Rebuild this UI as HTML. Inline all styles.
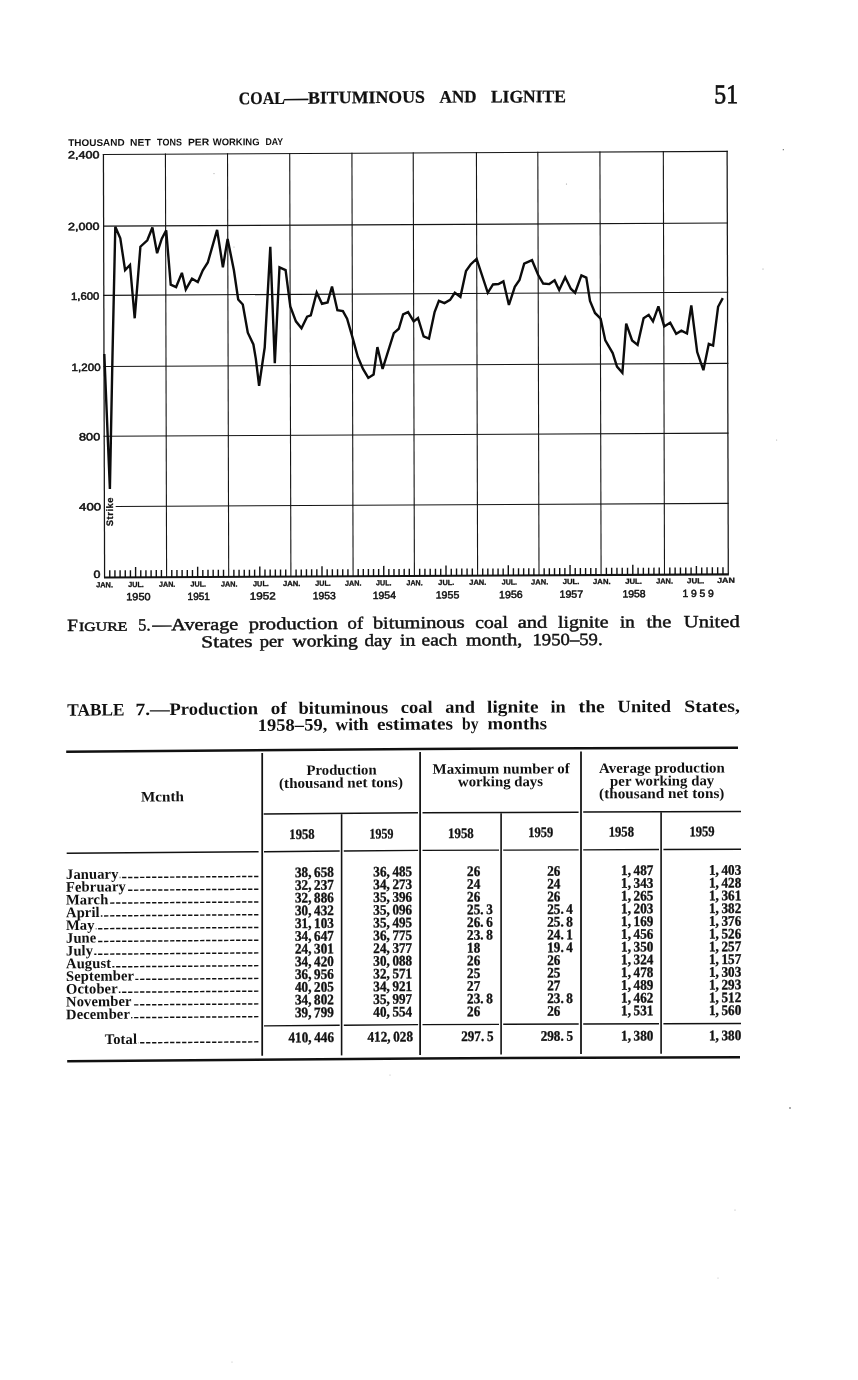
<!DOCTYPE html>
<html><head><meta charset="utf-8"><title>Coal—Bituminous and Lignite</title>
<style>
html,body{margin:0;padding:0;background:#fff}
body{width:858px;height:1380px;position:relative;overflow:hidden}
#pg{position:absolute;left:0;top:0;width:858px;height:1380px;will-change:transform}
svg{position:absolute;left:0;top:0}
text{fill:#111;white-space:pre}
</style></head><body><div id="pg">
<svg width="858" height="1380" viewBox="0 0 858 1380">
<g transform="matrix(1 -0.005 0 1 0 2.1450)">
<line x1="103.42" y1="152.30" x2="104.60" y2="575.85" stroke="#151515" stroke-width="1.25"/>
<line x1="165.42" y1="152.30" x2="166.60" y2="575.85" stroke="#151515" stroke-width="1.1"/>
<line x1="227.52" y1="152.30" x2="228.70" y2="575.85" stroke="#151515" stroke-width="1.1"/>
<line x1="289.72" y1="152.30" x2="290.90" y2="575.85" stroke="#151515" stroke-width="1.1"/>
<line x1="351.92" y1="152.30" x2="353.10" y2="575.85" stroke="#151515" stroke-width="1.1"/>
<line x1="413.22" y1="152.30" x2="414.40" y2="575.85" stroke="#151515" stroke-width="1.1"/>
<line x1="476.42" y1="152.30" x2="477.60" y2="575.85" stroke="#151515" stroke-width="1.1"/>
<line x1="537.82" y1="152.30" x2="539.00" y2="575.85" stroke="#151515" stroke-width="1.1"/>
<line x1="599.92" y1="152.30" x2="601.10" y2="575.85" stroke="#151515" stroke-width="1.1"/>
<line x1="663.32" y1="152.30" x2="664.50" y2="575.85" stroke="#151515" stroke-width="1.1"/>
<line x1="727.12" y1="152.30" x2="728.30" y2="575.85" stroke="#151515" stroke-width="1.25"/>
<line x1="102.82" y1="152.90" x2="727.72" y2="152.90" stroke="#151515" stroke-width="1.1"/>
<line x1="103.02" y1="224.50" x2="727.92" y2="224.50" stroke="#151515" stroke-width="1.1"/>
<line x1="103.21" y1="293.70" x2="728.11" y2="293.70" stroke="#151515" stroke-width="1.1"/>
<line x1="103.41" y1="364.90" x2="728.31" y2="364.90" stroke="#151515" stroke-width="1.1"/>
<line x1="103.60" y1="434.60" x2="728.50" y2="434.60" stroke="#151515" stroke-width="1.1"/>
<line x1="115.70" y1="504.90" x2="728.70" y2="504.90" stroke="#151515" stroke-width="1.1"/>
<line x1="104.00" y1="575.85" x2="728.90" y2="575.85" stroke="#151515" stroke-width="2.1"/>
<line x1="109.77" y1="575.85" x2="109.77" y2="568.75" stroke="#111" stroke-width="1.4"/>
<line x1="114.93" y1="575.85" x2="114.93" y2="568.75" stroke="#111" stroke-width="1.4"/>
<line x1="120.10" y1="575.85" x2="120.10" y2="568.75" stroke="#111" stroke-width="1.4"/>
<line x1="125.27" y1="575.85" x2="125.27" y2="568.75" stroke="#111" stroke-width="1.4"/>
<line x1="130.43" y1="575.85" x2="130.43" y2="568.75" stroke="#111" stroke-width="1.4"/>
<line x1="135.60" y1="575.85" x2="135.60" y2="565.65" stroke="#111" stroke-width="1.4"/>
<line x1="140.77" y1="575.85" x2="140.77" y2="568.75" stroke="#111" stroke-width="1.4"/>
<line x1="145.93" y1="575.85" x2="145.93" y2="568.75" stroke="#111" stroke-width="1.4"/>
<line x1="151.10" y1="575.85" x2="151.10" y2="568.75" stroke="#111" stroke-width="1.4"/>
<line x1="156.27" y1="575.85" x2="156.27" y2="568.75" stroke="#111" stroke-width="1.4"/>
<line x1="161.43" y1="575.85" x2="161.43" y2="568.75" stroke="#111" stroke-width="1.4"/>
<line x1="171.78" y1="575.85" x2="171.78" y2="568.75" stroke="#111" stroke-width="1.4"/>
<line x1="176.95" y1="575.85" x2="176.95" y2="568.75" stroke="#111" stroke-width="1.4"/>
<line x1="182.12" y1="575.85" x2="182.12" y2="568.75" stroke="#111" stroke-width="1.4"/>
<line x1="187.30" y1="575.85" x2="187.30" y2="568.75" stroke="#111" stroke-width="1.4"/>
<line x1="192.47" y1="575.85" x2="192.47" y2="568.75" stroke="#111" stroke-width="1.4"/>
<line x1="197.65" y1="575.85" x2="197.65" y2="565.65" stroke="#111" stroke-width="1.4"/>
<line x1="202.82" y1="575.85" x2="202.82" y2="568.75" stroke="#111" stroke-width="1.4"/>
<line x1="208.00" y1="575.85" x2="208.00" y2="568.75" stroke="#111" stroke-width="1.4"/>
<line x1="213.17" y1="575.85" x2="213.17" y2="568.75" stroke="#111" stroke-width="1.4"/>
<line x1="218.35" y1="575.85" x2="218.35" y2="568.75" stroke="#111" stroke-width="1.4"/>
<line x1="223.52" y1="575.85" x2="223.52" y2="568.75" stroke="#111" stroke-width="1.4"/>
<line x1="233.88" y1="575.85" x2="233.88" y2="568.75" stroke="#111" stroke-width="1.4"/>
<line x1="239.07" y1="575.85" x2="239.07" y2="568.75" stroke="#111" stroke-width="1.4"/>
<line x1="244.25" y1="575.85" x2="244.25" y2="568.75" stroke="#111" stroke-width="1.4"/>
<line x1="249.43" y1="575.85" x2="249.43" y2="568.75" stroke="#111" stroke-width="1.4"/>
<line x1="254.62" y1="575.85" x2="254.62" y2="568.75" stroke="#111" stroke-width="1.4"/>
<line x1="259.80" y1="575.85" x2="259.80" y2="565.65" stroke="#111" stroke-width="1.4"/>
<line x1="264.98" y1="575.85" x2="264.98" y2="568.75" stroke="#111" stroke-width="1.4"/>
<line x1="270.17" y1="575.85" x2="270.17" y2="568.75" stroke="#111" stroke-width="1.4"/>
<line x1="275.35" y1="575.85" x2="275.35" y2="568.75" stroke="#111" stroke-width="1.4"/>
<line x1="280.53" y1="575.85" x2="280.53" y2="568.75" stroke="#111" stroke-width="1.4"/>
<line x1="285.72" y1="575.85" x2="285.72" y2="568.75" stroke="#111" stroke-width="1.4"/>
<line x1="296.08" y1="575.85" x2="296.08" y2="568.75" stroke="#111" stroke-width="1.4"/>
<line x1="301.27" y1="575.85" x2="301.27" y2="568.75" stroke="#111" stroke-width="1.4"/>
<line x1="306.45" y1="575.85" x2="306.45" y2="568.75" stroke="#111" stroke-width="1.4"/>
<line x1="311.63" y1="575.85" x2="311.63" y2="568.75" stroke="#111" stroke-width="1.4"/>
<line x1="316.82" y1="575.85" x2="316.82" y2="568.75" stroke="#111" stroke-width="1.4"/>
<line x1="322.00" y1="575.85" x2="322.00" y2="565.65" stroke="#111" stroke-width="1.4"/>
<line x1="327.18" y1="575.85" x2="327.18" y2="568.75" stroke="#111" stroke-width="1.4"/>
<line x1="332.37" y1="575.85" x2="332.37" y2="568.75" stroke="#111" stroke-width="1.4"/>
<line x1="337.55" y1="575.85" x2="337.55" y2="568.75" stroke="#111" stroke-width="1.4"/>
<line x1="342.73" y1="575.85" x2="342.73" y2="568.75" stroke="#111" stroke-width="1.4"/>
<line x1="347.92" y1="575.85" x2="347.92" y2="568.75" stroke="#111" stroke-width="1.4"/>
<line x1="358.21" y1="575.85" x2="358.21" y2="568.75" stroke="#111" stroke-width="1.4"/>
<line x1="363.32" y1="575.85" x2="363.32" y2="568.75" stroke="#111" stroke-width="1.4"/>
<line x1="368.43" y1="575.85" x2="368.43" y2="568.75" stroke="#111" stroke-width="1.4"/>
<line x1="373.53" y1="575.85" x2="373.53" y2="568.75" stroke="#111" stroke-width="1.4"/>
<line x1="378.64" y1="575.85" x2="378.64" y2="568.75" stroke="#111" stroke-width="1.4"/>
<line x1="383.75" y1="575.85" x2="383.75" y2="565.65" stroke="#111" stroke-width="1.4"/>
<line x1="388.86" y1="575.85" x2="388.86" y2="568.75" stroke="#111" stroke-width="1.4"/>
<line x1="393.97" y1="575.85" x2="393.97" y2="568.75" stroke="#111" stroke-width="1.4"/>
<line x1="399.07" y1="575.85" x2="399.07" y2="568.75" stroke="#111" stroke-width="1.4"/>
<line x1="404.18" y1="575.85" x2="404.18" y2="568.75" stroke="#111" stroke-width="1.4"/>
<line x1="409.29" y1="575.85" x2="409.29" y2="568.75" stroke="#111" stroke-width="1.4"/>
<line x1="419.67" y1="575.85" x2="419.67" y2="568.75" stroke="#111" stroke-width="1.4"/>
<line x1="424.93" y1="575.85" x2="424.93" y2="568.75" stroke="#111" stroke-width="1.4"/>
<line x1="430.20" y1="575.85" x2="430.20" y2="568.75" stroke="#111" stroke-width="1.4"/>
<line x1="435.47" y1="575.85" x2="435.47" y2="568.75" stroke="#111" stroke-width="1.4"/>
<line x1="440.73" y1="575.85" x2="440.73" y2="568.75" stroke="#111" stroke-width="1.4"/>
<line x1="446.00" y1="575.85" x2="446.00" y2="565.65" stroke="#111" stroke-width="1.4"/>
<line x1="451.27" y1="575.85" x2="451.27" y2="568.75" stroke="#111" stroke-width="1.4"/>
<line x1="456.53" y1="575.85" x2="456.53" y2="568.75" stroke="#111" stroke-width="1.4"/>
<line x1="461.80" y1="575.85" x2="461.80" y2="568.75" stroke="#111" stroke-width="1.4"/>
<line x1="467.07" y1="575.85" x2="467.07" y2="568.75" stroke="#111" stroke-width="1.4"/>
<line x1="472.33" y1="575.85" x2="472.33" y2="568.75" stroke="#111" stroke-width="1.4"/>
<line x1="482.72" y1="575.85" x2="482.72" y2="568.75" stroke="#111" stroke-width="1.4"/>
<line x1="487.83" y1="575.85" x2="487.83" y2="568.75" stroke="#111" stroke-width="1.4"/>
<line x1="492.95" y1="575.85" x2="492.95" y2="568.75" stroke="#111" stroke-width="1.4"/>
<line x1="498.07" y1="575.85" x2="498.07" y2="568.75" stroke="#111" stroke-width="1.4"/>
<line x1="503.18" y1="575.85" x2="503.18" y2="568.75" stroke="#111" stroke-width="1.4"/>
<line x1="508.30" y1="575.85" x2="508.30" y2="565.65" stroke="#111" stroke-width="1.4"/>
<line x1="513.42" y1="575.85" x2="513.42" y2="568.75" stroke="#111" stroke-width="1.4"/>
<line x1="518.53" y1="575.85" x2="518.53" y2="568.75" stroke="#111" stroke-width="1.4"/>
<line x1="523.65" y1="575.85" x2="523.65" y2="568.75" stroke="#111" stroke-width="1.4"/>
<line x1="528.77" y1="575.85" x2="528.77" y2="568.75" stroke="#111" stroke-width="1.4"/>
<line x1="533.88" y1="575.85" x2="533.88" y2="568.75" stroke="#111" stroke-width="1.4"/>
<line x1="544.17" y1="575.85" x2="544.17" y2="568.75" stroke="#111" stroke-width="1.4"/>
<line x1="549.35" y1="575.85" x2="549.35" y2="568.75" stroke="#111" stroke-width="1.4"/>
<line x1="554.52" y1="575.85" x2="554.52" y2="568.75" stroke="#111" stroke-width="1.4"/>
<line x1="559.70" y1="575.85" x2="559.70" y2="568.75" stroke="#111" stroke-width="1.4"/>
<line x1="564.88" y1="575.85" x2="564.88" y2="568.75" stroke="#111" stroke-width="1.4"/>
<line x1="570.05" y1="575.85" x2="570.05" y2="565.65" stroke="#111" stroke-width="1.4"/>
<line x1="575.23" y1="575.85" x2="575.23" y2="568.75" stroke="#111" stroke-width="1.4"/>
<line x1="580.40" y1="575.85" x2="580.40" y2="568.75" stroke="#111" stroke-width="1.4"/>
<line x1="585.58" y1="575.85" x2="585.58" y2="568.75" stroke="#111" stroke-width="1.4"/>
<line x1="590.75" y1="575.85" x2="590.75" y2="568.75" stroke="#111" stroke-width="1.4"/>
<line x1="595.93" y1="575.85" x2="595.93" y2="568.75" stroke="#111" stroke-width="1.4"/>
<line x1="606.38" y1="575.85" x2="606.38" y2="568.75" stroke="#111" stroke-width="1.4"/>
<line x1="611.67" y1="575.85" x2="611.67" y2="568.75" stroke="#111" stroke-width="1.4"/>
<line x1="616.95" y1="575.85" x2="616.95" y2="568.75" stroke="#111" stroke-width="1.4"/>
<line x1="622.23" y1="575.85" x2="622.23" y2="568.75" stroke="#111" stroke-width="1.4"/>
<line x1="627.52" y1="575.85" x2="627.52" y2="568.75" stroke="#111" stroke-width="1.4"/>
<line x1="632.80" y1="575.85" x2="632.80" y2="565.65" stroke="#111" stroke-width="1.4"/>
<line x1="638.08" y1="575.85" x2="638.08" y2="568.75" stroke="#111" stroke-width="1.4"/>
<line x1="643.37" y1="575.85" x2="643.37" y2="568.75" stroke="#111" stroke-width="1.4"/>
<line x1="648.65" y1="575.85" x2="648.65" y2="568.75" stroke="#111" stroke-width="1.4"/>
<line x1="653.93" y1="575.85" x2="653.93" y2="568.75" stroke="#111" stroke-width="1.4"/>
<line x1="659.22" y1="575.85" x2="659.22" y2="568.75" stroke="#111" stroke-width="1.4"/>
<line x1="669.82" y1="575.85" x2="669.82" y2="568.75" stroke="#111" stroke-width="1.4"/>
<line x1="675.13" y1="575.85" x2="675.13" y2="568.75" stroke="#111" stroke-width="1.4"/>
<line x1="680.45" y1="575.85" x2="680.45" y2="568.75" stroke="#111" stroke-width="1.4"/>
<line x1="685.77" y1="575.85" x2="685.77" y2="568.75" stroke="#111" stroke-width="1.4"/>
<line x1="691.08" y1="575.85" x2="691.08" y2="568.75" stroke="#111" stroke-width="1.4"/>
<line x1="696.40" y1="575.85" x2="696.40" y2="567.25" stroke="#111" stroke-width="1.4"/>
<line x1="701.72" y1="575.85" x2="701.72" y2="568.75" stroke="#111" stroke-width="1.4"/>
<line x1="707.03" y1="575.85" x2="707.03" y2="568.75" stroke="#111" stroke-width="1.4"/>
<line x1="712.35" y1="575.85" x2="712.35" y2="568.75" stroke="#111" stroke-width="1.4"/>
<line x1="717.67" y1="575.85" x2="717.67" y2="568.75" stroke="#111" stroke-width="1.4"/>
<line x1="722.98" y1="575.85" x2="722.98" y2="568.75" stroke="#111" stroke-width="1.4"/>
<polyline points="104.3,352.4 109.9,487.4 112.5,353.4 115.3,225.1 120.3,236.7 125.1,268.6 130.0,263.5 134.7,316.8 140.4,245.3 147.3,238.9 152.4,226.1 157.1,251.8 161.8,237.3 166.2,229.0 170.7,283.4 176.1,285.8 181.9,271.6 185.8,288.2 192.0,277.5 197.8,280.9 202.8,269.2 207.8,261.4 217.1,228.8 222.9,266.2 227.6,237.9 233.9,269.3 238.2,298.6 242.8,303.6 247.8,331.8 253.4,343.6 255.8,357.8 259.1,384.9 264.7,346.7 270.3,246.0 274.8,362.5 279.5,266.6 285.6,269.4 290.3,305.8 295.9,320.7 301.5,327.7 307.1,316.1 310.8,314.8 316.7,291.9 322.0,303.2 327.6,301.9 332.0,286.0 337.4,309.7 342.9,310.7 347.1,318.2 352.7,337.8 357.8,356.4 363.0,368.6 368.3,377.6 373.6,374.2 377.4,346.8 382.6,368.7 393.8,332.9 398.8,328.6 403.1,314.2 408.1,312.0 413.7,321.3 418.0,317.9 423.6,336.3 429.0,338.5 434.6,312.1 438.9,300.9 444.5,303.2 450.1,300.0 454.8,292.9 460.4,297.0 466.0,271.2 470.6,264.7 476.6,259.1 487.8,293.1 493.0,284.8 498.5,284.4 503.4,281.7 508.9,305.4 514.8,287.3 519.5,280.5 524.2,264.1 532.0,260.7 538.1,275.3 543.2,284.1 549.3,284.7 554.6,281.0 559.2,290.7 565.2,277.9 570.8,289.4 575.1,293.5 581.4,276.1 586.3,278.4 590.0,301.7 595.0,313.8 600.6,319.5 605.3,341.3 612.7,354.0 617.0,367.6 622.4,373.7 626.2,324.6 632.1,341.5 637.6,345.9 643.6,319.2 648.7,315.9 653.0,322.5 658.4,307.6 664.2,327.6 670.2,323.9 676.2,335.1 681.4,332.0 687.0,334.8 691.3,306.8 697.2,353.4 703.4,371.6 708.8,345.2 713.1,347.0 718.1,308.2 722.8,299.6" fill="none" stroke="#0c0c0c" stroke-width="2.4" stroke-linejoin="miter" stroke-miterlimit="3"/>
<text x="113.4" y="524.7" transform="rotate(-90 113.4 524.7)" font-family="Liberation Sans" font-weight="bold" font-size="9.4" letter-spacing="0.55" stroke="#111" stroke-width="0.25">Strike</text>
</g>
<text x="68.20" y="146.05" transform="rotate(-0.286 68.20 146.05)" font-family="Liberation Sans" font-size="9.7" font-weight="bold" textLength="56.40" lengthAdjust="spacingAndGlyphs">THOUSAND</text>
<text x="130.10" y="145.74" transform="rotate(-0.286 130.10 145.74)" font-family="Liberation Sans" font-size="9.7" font-weight="bold" textLength="20.60" lengthAdjust="spacingAndGlyphs">NET</text>
<text x="157.10" y="145.60" transform="rotate(-0.286 157.10 145.60)" font-family="Liberation Sans" font-size="9.7" font-weight="bold" textLength="24.80" lengthAdjust="spacingAndGlyphs">TONS</text>
<text x="187.90" y="145.45" transform="rotate(-0.286 187.90 145.45)" font-family="Liberation Sans" font-size="9.7" font-weight="bold" textLength="21.50" lengthAdjust="spacingAndGlyphs">PER</text>
<text x="212.70" y="145.33" transform="rotate(-0.286 212.70 145.33)" font-family="Liberation Sans" font-size="9.7" font-weight="bold" textLength="46.90" lengthAdjust="spacingAndGlyphs">WORKING</text>
<text x="265.40" y="145.06" transform="rotate(-0.286 265.40 145.06)" font-family="Liberation Sans" font-size="9.7" font-weight="bold" textLength="17.70" lengthAdjust="spacingAndGlyphs">DAY</text>
<text x="67.90" y="158.50" transform="rotate(-0.286 67.90 158.50)" font-family="Liberation Sans" font-size="10.6" stroke="#111" stroke-width="0.5" textLength="31.50" lengthAdjust="spacingAndGlyphs">2,400</text>
<text x="67.90" y="230.20" transform="rotate(-0.286 67.90 230.20)" font-family="Liberation Sans" font-size="10.6" stroke="#111" stroke-width="0.5" textLength="31.50" lengthAdjust="spacingAndGlyphs">2,000</text>
<text x="71.00" y="299.90" transform="rotate(-0.286 71.00 299.90)" font-family="Liberation Sans" font-size="10.6" stroke="#111" stroke-width="0.5" textLength="28.40" lengthAdjust="spacingAndGlyphs">1,600</text>
<text x="71.60" y="371.10" transform="rotate(-0.286 71.60 371.10)" font-family="Liberation Sans" font-size="10.6" stroke="#111" stroke-width="0.5" textLength="29.00" lengthAdjust="spacingAndGlyphs">1,200</text>
<text x="79.10" y="440.50" transform="rotate(-0.286 79.10 440.50)" font-family="Liberation Sans" font-size="10.6" stroke="#111" stroke-width="0.5" textLength="21.10" lengthAdjust="spacingAndGlyphs">800</text>
<text x="79.10" y="510.60" transform="rotate(-0.286 79.10 510.60)" font-family="Liberation Sans" font-size="10.6" stroke="#111" stroke-width="0.5" textLength="22.10" lengthAdjust="spacingAndGlyphs">400</text>
<text transform="translate(93.40 578.10) rotate(-0.286) scale(1.1800 1)" font-family="Liberation Sans" font-size="10.6" stroke="#111" stroke-width="0.5">0</text>
<text x="96.20" y="587.30" transform="rotate(-0.286 96.20 587.30)" font-family="Liberation Sans" font-size="7.4" font-weight="bold" stroke="#111" stroke-width="0.3" textLength="16.80" lengthAdjust="spacingAndGlyphs">JAN.</text>
<text x="159.00" y="586.88" transform="rotate(-0.286 159.00 586.88)" font-family="Liberation Sans" font-size="7.4" font-weight="bold" stroke="#111" stroke-width="0.3" textLength="16.30" lengthAdjust="spacingAndGlyphs">JAN.</text>
<text x="221.00" y="586.47" transform="rotate(-0.286 221.00 586.47)" font-family="Liberation Sans" font-size="7.4" font-weight="bold" stroke="#111" stroke-width="0.3" textLength="16.50" lengthAdjust="spacingAndGlyphs">JAN.</text>
<text x="282.90" y="586.07" transform="rotate(-0.286 282.90 586.07)" font-family="Liberation Sans" font-size="7.4" font-weight="bold" stroke="#111" stroke-width="0.3" textLength="17.50" lengthAdjust="spacingAndGlyphs">JAN.</text>
<text x="345.10" y="585.66" transform="rotate(-0.286 345.10 585.66)" font-family="Liberation Sans" font-size="7.4" font-weight="bold" stroke="#111" stroke-width="0.3" textLength="16.40" lengthAdjust="spacingAndGlyphs">JAN.</text>
<text x="406.60" y="585.25" transform="rotate(-0.286 406.60 585.25)" font-family="Liberation Sans" font-size="7.4" font-weight="bold" stroke="#111" stroke-width="0.3" textLength="16.00" lengthAdjust="spacingAndGlyphs">JAN.</text>
<text x="469.20" y="584.84" transform="rotate(-0.286 469.20 584.84)" font-family="Liberation Sans" font-size="7.4" font-weight="bold" stroke="#111" stroke-width="0.3" textLength="17.20" lengthAdjust="spacingAndGlyphs">JAN.</text>
<text x="531.10" y="584.43" transform="rotate(-0.286 531.10 584.43)" font-family="Liberation Sans" font-size="7.4" font-weight="bold" stroke="#111" stroke-width="0.3" textLength="17.20" lengthAdjust="spacingAndGlyphs">JAN.</text>
<text x="593.10" y="584.02" transform="rotate(-0.286 593.10 584.02)" font-family="Liberation Sans" font-size="7.4" font-weight="bold" stroke="#111" stroke-width="0.3" textLength="17.50" lengthAdjust="spacingAndGlyphs">JAN.</text>
<text x="656.20" y="583.60" transform="rotate(-0.286 656.20 583.60)" font-family="Liberation Sans" font-size="7.4" font-weight="bold" stroke="#111" stroke-width="0.3" textLength="16.80" lengthAdjust="spacingAndGlyphs">JAN.</text>
<text x="128.20" y="586.99" transform="rotate(-0.286 128.20 586.99)" font-family="Liberation Sans" font-size="7.4" font-weight="bold" stroke="#111" stroke-width="0.3" textLength="15.60" lengthAdjust="spacingAndGlyphs">JUL.</text>
<text x="190.50" y="586.58" transform="rotate(-0.286 190.50 586.58)" font-family="Liberation Sans" font-size="7.4" font-weight="bold" stroke="#111" stroke-width="0.3" textLength="15.50" lengthAdjust="spacingAndGlyphs">JUL.</text>
<text x="253.00" y="586.16" transform="rotate(-0.286 253.00 586.16)" font-family="Liberation Sans" font-size="7.4" font-weight="bold" stroke="#111" stroke-width="0.3" textLength="15.90" lengthAdjust="spacingAndGlyphs">JUL.</text>
<text x="315.30" y="585.75" transform="rotate(-0.286 315.30 585.75)" font-family="Liberation Sans" font-size="7.4" font-weight="bold" stroke="#111" stroke-width="0.3" textLength="15.50" lengthAdjust="spacingAndGlyphs">JUL.</text>
<text x="376.10" y="585.35" transform="rotate(-0.286 376.10 585.35)" font-family="Liberation Sans" font-size="7.4" font-weight="bold" stroke="#111" stroke-width="0.3" textLength="15.40" lengthAdjust="spacingAndGlyphs">JUL.</text>
<text x="438.30" y="584.94" transform="rotate(-0.286 438.30 584.94)" font-family="Liberation Sans" font-size="7.4" font-weight="bold" stroke="#111" stroke-width="0.3" textLength="16.00" lengthAdjust="spacingAndGlyphs">JUL.</text>
<text x="501.70" y="584.52" transform="rotate(-0.286 501.70 584.52)" font-family="Liberation Sans" font-size="7.4" font-weight="bold" stroke="#111" stroke-width="0.3" textLength="15.40" lengthAdjust="spacingAndGlyphs">JUL.</text>
<text x="562.70" y="584.12" transform="rotate(-0.286 562.70 584.12)" font-family="Liberation Sans" font-size="7.4" font-weight="bold" stroke="#111" stroke-width="0.3" textLength="16.80" lengthAdjust="spacingAndGlyphs">JUL.</text>
<text x="625.20" y="583.71" transform="rotate(-0.286 625.20 583.71)" font-family="Liberation Sans" font-size="7.4" font-weight="bold" stroke="#111" stroke-width="0.3" textLength="16.80" lengthAdjust="spacingAndGlyphs">JUL.</text>
<text x="687.00" y="583.30" transform="rotate(-0.286 687.00 583.30)" font-family="Liberation Sans" font-size="7.4" font-weight="bold" stroke="#111" stroke-width="0.3" textLength="17.30" lengthAdjust="spacingAndGlyphs">JUL.</text>
<text x="717.20" y="582.90" transform="rotate(-0.286 717.20 582.90)" font-family="Liberation Sans" font-size="7.4" font-weight="bold" stroke="#111" stroke-width="0.3" textLength="17.60" lengthAdjust="spacingAndGlyphs">JAN</text>
<text x="126.30" y="600.39" transform="rotate(-0.286 126.30 600.39)" font-family="Liberation Sans" font-size="10.4" stroke="#111" stroke-width="0.5" textLength="24.30" lengthAdjust="spacingAndGlyphs">1950</text>
<text x="187.60" y="600.02" transform="rotate(-0.286 187.60 600.02)" font-family="Liberation Sans" font-size="10.4" stroke="#111" stroke-width="0.5" textLength="22.30" lengthAdjust="spacingAndGlyphs">1951</text>
<text x="249.70" y="599.65" transform="rotate(-0.286 249.70 599.65)" font-family="Liberation Sans" font-size="10.4" stroke="#111" stroke-width="0.5" textLength="26.10" lengthAdjust="spacingAndGlyphs">1952</text>
<text x="312.70" y="599.27" transform="rotate(-0.286 312.70 599.27)" font-family="Liberation Sans" font-size="10.4" stroke="#111" stroke-width="0.5" textLength="23.10" lengthAdjust="spacingAndGlyphs">1953</text>
<text x="372.70" y="598.91" transform="rotate(-0.286 372.70 598.91)" font-family="Liberation Sans" font-size="10.4" stroke="#111" stroke-width="0.5" textLength="23.30" lengthAdjust="spacingAndGlyphs">1954</text>
<text x="435.70" y="598.54" transform="rotate(-0.286 435.70 598.54)" font-family="Liberation Sans" font-size="10.4" stroke="#111" stroke-width="0.5" textLength="23.60" lengthAdjust="spacingAndGlyphs">1955</text>
<text x="499.10" y="598.16" transform="rotate(-0.286 499.10 598.16)" font-family="Liberation Sans" font-size="10.4" stroke="#111" stroke-width="0.5" textLength="23.60" lengthAdjust="spacingAndGlyphs">1956</text>
<text x="559.50" y="597.79" transform="rotate(-0.286 559.50 597.79)" font-family="Liberation Sans" font-size="10.4" stroke="#111" stroke-width="0.5" textLength="23.70" lengthAdjust="spacingAndGlyphs">1957</text>
<text x="622.40" y="597.42" transform="rotate(-0.286 622.40 597.42)" font-family="Liberation Sans" font-size="10.4" stroke="#111" stroke-width="0.5" textLength="23.30" lengthAdjust="spacingAndGlyphs">1958</text>
<text x="682.60" y="597.05" transform="rotate(-0.286 682.60 597.05)" font-family="Liberation Sans" font-size="10.4" stroke="#111" stroke-width="0.5" textLength="31.30" lengthAdjust="spacing">1959</text>
<text x="238.80" y="104.21" transform="rotate(-0.470 238.80 104.21)" font-family="Liberation Serif" font-size="17.7" font-weight="bold" stroke="#111" stroke-width="0.25" textLength="46.00" lengthAdjust="spacingAndGlyphs">COAL</text>
<text x="284.20" y="103.84" transform="rotate(-0.470 284.20 103.84)" font-family="Liberation Serif" font-size="17.7" font-weight="bold" stroke="#111" stroke-width="0.25" textLength="23.80" lengthAdjust="spacingAndGlyphs">—</text>
<text x="308.00" y="103.64" transform="rotate(-0.470 308.00 103.64)" font-family="Liberation Serif" font-size="17.7" font-weight="bold" stroke="#111" stroke-width="0.25" textLength="117.00" lengthAdjust="spacingAndGlyphs">BITUMINOUS</text>
<text x="439.60" y="102.66" transform="rotate(-0.201 439.60 102.66)" font-family="Liberation Serif" font-size="17.7" font-weight="bold" stroke="#111" stroke-width="0.25" textLength="36.90" lengthAdjust="spacingAndGlyphs">AND</text>
<text x="490.90" y="102.48" transform="rotate(-0.201 490.90 102.48)" font-family="Liberation Serif" font-size="17.7" font-weight="bold" stroke="#111" stroke-width="0.25" textLength="75.10" lengthAdjust="spacingAndGlyphs">LIGNITE</text>
<text x="714.30" y="103.30" transform="rotate(-0.201 714.30 103.30)" font-family="Liberation Serif" font-size="27.2" stroke="#111" stroke-width="0.75" textLength="23.80" lengthAdjust="spacingAndGlyphs">51</text>
<text x="67.30" y="631.07" transform="rotate(-0.470 67.30 631.07)" font-family="Liberation Serif" font-size="17.1" stroke="#111" stroke-width="0.45" textLength="10.70" lengthAdjust="spacingAndGlyphs">F</text>
<text x="79.00" y="630.97" transform="rotate(-0.470 79.00 630.97)" font-family="Liberation Serif" font-size="12.7" stroke="#111" stroke-width="0.45" textLength="48.40" lengthAdjust="spacingAndGlyphs">IGURE</text>
<text x="138.30" y="630.49" transform="rotate(-0.470 138.30 630.49)" font-family="Liberation Serif" font-size="17.1" stroke="#111" stroke-width="0.45" textLength="12.20" lengthAdjust="spacingAndGlyphs">5.</text>
<text x="152.50" y="630.37" transform="rotate(-0.470 152.50 630.37)" font-family="Liberation Serif" font-size="17.1" stroke="#111" stroke-width="0.45" textLength="18.80" lengthAdjust="spacingAndGlyphs">—</text>
<text x="171.30" y="630.22" transform="rotate(-0.470 171.30 630.22)" font-family="Liberation Serif" font-size="17.1" stroke="#111" stroke-width="0.45" textLength="67.00" lengthAdjust="spacingAndGlyphs">Average</text>
<text x="248.70" y="629.58" transform="rotate(-0.470 248.70 629.58)" font-family="Liberation Serif" font-size="17.1" stroke="#111" stroke-width="0.45" textLength="89.20" lengthAdjust="spacingAndGlyphs">production</text>
<text x="347.60" y="628.77" transform="rotate(-0.470 347.60 628.77)" font-family="Liberation Serif" font-size="17.1" stroke="#111" stroke-width="0.45" textLength="15.60" lengthAdjust="spacingAndGlyphs">of</text>
<text x="372.90" y="628.56" transform="rotate(-0.470 372.90 628.56)" font-family="Liberation Serif" font-size="17.1" stroke="#111" stroke-width="0.45" textLength="91.80" lengthAdjust="spacingAndGlyphs">bituminous</text>
<text x="475.20" y="627.98" transform="rotate(-0.201 475.20 627.98)" font-family="Liberation Serif" font-size="17.1" stroke="#111" stroke-width="0.45" textLength="32.70" lengthAdjust="spacingAndGlyphs">coal</text>
<text x="517.70" y="627.83" transform="rotate(-0.201 517.70 627.83)" font-family="Liberation Serif" font-size="17.1" stroke="#111" stroke-width="0.45" textLength="29.70" lengthAdjust="spacingAndGlyphs">and</text>
<text x="557.90" y="627.69" transform="rotate(-0.201 557.90 627.69)" font-family="Liberation Serif" font-size="17.1" stroke="#111" stroke-width="0.45" textLength="50.70" lengthAdjust="spacingAndGlyphs">lignite</text>
<text x="620.10" y="627.48" transform="rotate(-0.201 620.10 627.48)" font-family="Liberation Serif" font-size="17.1" stroke="#111" stroke-width="0.45" textLength="14.70" lengthAdjust="spacingAndGlyphs">in</text>
<text x="646.40" y="627.38" transform="rotate(-0.201 646.40 627.38)" font-family="Liberation Serif" font-size="17.1" stroke="#111" stroke-width="0.45" textLength="25.10" lengthAdjust="spacingAndGlyphs">the</text>
<text x="683.80" y="627.25" transform="rotate(-0.201 683.80 627.25)" font-family="Liberation Serif" font-size="17.1" stroke="#111" stroke-width="0.45" textLength="55.90" lengthAdjust="spacingAndGlyphs">United</text>
<text x="201.30" y="647.40" transform="rotate(-0.470 201.30 647.40)" font-family="Liberation Serif" font-size="17.1" stroke="#111" stroke-width="0.45" textLength="51.20" lengthAdjust="spacingAndGlyphs">States</text>
<text x="259.70" y="646.92" transform="rotate(-0.470 259.70 646.92)" font-family="Liberation Serif" font-size="17.1" stroke="#111" stroke-width="0.45" textLength="23.70" lengthAdjust="spacingAndGlyphs">per</text>
<text x="292.60" y="646.65" transform="rotate(-0.470 292.60 646.65)" font-family="Liberation Serif" font-size="17.1" stroke="#111" stroke-width="0.45" textLength="65.30" lengthAdjust="spacingAndGlyphs">working</text>
<text x="364.40" y="646.06" transform="rotate(-0.470 364.40 646.06)" font-family="Liberation Serif" font-size="17.1" stroke="#111" stroke-width="0.45" textLength="27.50" lengthAdjust="spacingAndGlyphs">day</text>
<text x="400.00" y="645.77" transform="rotate(-0.470 400.00 645.77)" font-family="Liberation Serif" font-size="17.1" stroke="#111" stroke-width="0.45" textLength="15.40" lengthAdjust="spacingAndGlyphs">in</text>
<text x="421.60" y="645.60" transform="rotate(-0.201 421.60 645.60)" font-family="Liberation Serif" font-size="17.1" stroke="#111" stroke-width="0.45" textLength="35.60" lengthAdjust="spacingAndGlyphs">each</text>
<text x="466.00" y="645.45" transform="rotate(-0.201 466.00 645.45)" font-family="Liberation Serif" font-size="17.1" stroke="#111" stroke-width="0.45" textLength="56.20" lengthAdjust="spacingAndGlyphs">month,</text>
<text x="532.40" y="645.21" transform="rotate(-0.201 532.40 645.21)" font-family="Liberation Serif" font-size="17.1" stroke="#111" stroke-width="0.45" textLength="70.30" lengthAdjust="spacingAndGlyphs">1950–59.</text>
<text x="67.30" y="715.77" transform="rotate(-0.470 67.30 715.77)" font-family="Liberation Serif" font-size="17.4" font-weight="bold" textLength="57.30" lengthAdjust="spacingAndGlyphs">TABLE</text>
<text x="135.50" y="715.21" transform="rotate(-0.470 135.50 715.21)" font-family="Liberation Serif" font-size="17.4" font-weight="bold" textLength="14.70" lengthAdjust="spacingAndGlyphs">7.</text>
<text x="150.00" y="715.09" transform="rotate(-0.470 150.00 715.09)" font-family="Liberation Serif" font-size="17.4" font-weight="bold" textLength="19.80" lengthAdjust="spacingAndGlyphs">—</text>
<text x="169.40" y="714.93" transform="rotate(-0.470 169.40 714.93)" font-family="Liberation Serif" font-size="17.4" font-weight="bold" textLength="88.60" lengthAdjust="spacingAndGlyphs">Production</text>
<text x="270.80" y="714.10" transform="rotate(-0.470 270.80 714.10)" font-family="Liberation Serif" font-size="17.4" font-weight="bold" textLength="16.00" lengthAdjust="spacingAndGlyphs">of</text>
<text x="298.50" y="713.87" transform="rotate(-0.470 298.50 713.87)" font-family="Liberation Serif" font-size="17.4" font-weight="bold" textLength="89.80" lengthAdjust="spacingAndGlyphs">bituminous</text>
<text x="400.80" y="713.03" transform="rotate(-0.470 400.80 713.03)" font-family="Liberation Serif" font-size="17.4" font-weight="bold" textLength="32.00" lengthAdjust="spacingAndGlyphs">coal</text>
<text x="445.20" y="712.79" transform="rotate(-0.201 445.20 712.79)" font-family="Liberation Serif" font-size="17.4" font-weight="bold" textLength="29.70" lengthAdjust="spacingAndGlyphs">and</text>
<text x="487.10" y="712.64" transform="rotate(-0.201 487.10 712.64)" font-family="Liberation Serif" font-size="17.4" font-weight="bold" textLength="51.50" lengthAdjust="spacingAndGlyphs">lignite</text>
<text x="550.40" y="712.42" transform="rotate(-0.201 550.40 712.42)" font-family="Liberation Serif" font-size="17.4" font-weight="bold" textLength="15.30" lengthAdjust="spacingAndGlyphs">in</text>
<text x="578.60" y="712.32" transform="rotate(-0.201 578.60 712.32)" font-family="Liberation Serif" font-size="17.4" font-weight="bold" textLength="26.20" lengthAdjust="spacingAndGlyphs">the</text>
<text x="617.60" y="712.18" transform="rotate(-0.201 617.60 712.18)" font-family="Liberation Serif" font-size="17.4" font-weight="bold" textLength="53.30" lengthAdjust="spacingAndGlyphs">United</text>
<text x="684.30" y="711.95" transform="rotate(-0.201 684.30 711.95)" font-family="Liberation Serif" font-size="17.4" font-weight="bold" textLength="55.60" lengthAdjust="spacingAndGlyphs">States,</text>
<text x="257.80" y="730.92" transform="rotate(-0.470 257.80 730.92)" font-family="Liberation Serif" font-size="17.4" font-weight="bold" textLength="69.50" lengthAdjust="spacingAndGlyphs">1958–59,</text>
<text x="335.60" y="730.28" transform="rotate(-0.470 335.60 730.28)" font-family="Liberation Serif" font-size="17.4" font-weight="bold" textLength="33.00" lengthAdjust="spacingAndGlyphs">with</text>
<text x="376.90" y="729.94" transform="rotate(-0.470 376.90 729.94)" font-family="Liberation Serif" font-size="17.4" font-weight="bold" textLength="76.10" lengthAdjust="spacingAndGlyphs">estimates</text>
<text x="462.10" y="729.44" transform="rotate(-0.201 462.10 729.44)" font-family="Liberation Serif" font-size="17.4" font-weight="bold" textLength="16.50" lengthAdjust="spacingAndGlyphs">by</text>
<text x="487.50" y="729.35" transform="rotate(-0.201 487.50 729.35)" font-family="Liberation Serif" font-size="17.4" font-weight="bold" textLength="59.50" lengthAdjust="spacingAndGlyphs">months</text>
<text x="141.00" y="801.60" transform="rotate(-0.470 141.00 801.60)" font-family="Liberation Serif" font-size="14.5" font-weight="bold" textLength="43.00" lengthAdjust="spacingAndGlyphs">Mcnth</text>
<text x="306.60" y="774.90" transform="rotate(-0.470 306.60 774.90)" font-family="Liberation Serif" font-size="14.5" font-weight="bold" textLength="70.00" lengthAdjust="spacingAndGlyphs">Production</text>
<text x="279.10" y="788.00" transform="rotate(-0.470 279.10 788.00)" font-family="Liberation Serif" font-size="14.5" font-weight="bold" textLength="123.90" lengthAdjust="spacingAndGlyphs">(thousand net tons)</text>
<text x="432.60" y="773.80" transform="rotate(-0.201 432.60 773.80)" font-family="Liberation Serif" font-size="14.5" font-weight="bold" textLength="137.20" lengthAdjust="spacingAndGlyphs">Maximum number of</text>
<text x="458.00" y="786.40" transform="rotate(-0.201 458.00 786.40)" font-family="Liberation Serif" font-size="14.5" font-weight="bold" textLength="85.00" lengthAdjust="spacingAndGlyphs">working days</text>
<text x="599.10" y="772.90" transform="rotate(-0.201 599.10 772.90)" font-family="Liberation Serif" font-size="14.5" font-weight="bold" textLength="125.70" lengthAdjust="spacingAndGlyphs">Average production</text>
<text x="610.10" y="785.70" transform="rotate(-0.201 610.10 785.70)" font-family="Liberation Serif" font-size="14.5" font-weight="bold" textLength="104.10" lengthAdjust="spacingAndGlyphs">per working day</text>
<text x="599.10" y="798.30" transform="rotate(-0.201 599.10 798.30)" font-family="Liberation Serif" font-size="14.5" font-weight="bold" textLength="125.30" lengthAdjust="spacingAndGlyphs">(thousand net tons)</text>
<text x="289.30" y="839.00" transform="rotate(-0.470 289.30 839.00)" font-family="Liberation Serif" font-size="14.5" font-weight="bold" stroke="#111" stroke-width="0.3" textLength="25.40" lengthAdjust="spacingAndGlyphs">1958</text>
<text x="369.50" y="838.60" transform="rotate(-0.470 369.50 838.60)" font-family="Liberation Serif" font-size="14.5" font-weight="bold" stroke="#111" stroke-width="0.3" textLength="23.90" lengthAdjust="spacingAndGlyphs">1959</text>
<text x="448.10" y="838.10" transform="rotate(-0.201 448.10 838.10)" font-family="Liberation Serif" font-size="14.5" font-weight="bold" stroke="#111" stroke-width="0.3" textLength="25.70" lengthAdjust="spacingAndGlyphs">1958</text>
<text x="528.30" y="837.00" transform="rotate(-0.201 528.30 837.00)" font-family="Liberation Serif" font-size="14.5" font-weight="bold" stroke="#111" stroke-width="0.3" textLength="25.00" lengthAdjust="spacingAndGlyphs">1959</text>
<text x="608.70" y="836.60" transform="rotate(-0.201 608.70 836.60)" font-family="Liberation Serif" font-size="14.5" font-weight="bold" stroke="#111" stroke-width="0.3" textLength="25.30" lengthAdjust="spacingAndGlyphs">1958</text>
<text x="689.40" y="836.20" transform="rotate(-0.201 689.40 836.20)" font-family="Liberation Serif" font-size="14.5" font-weight="bold" stroke="#111" stroke-width="0.3" textLength="25.30" lengthAdjust="spacingAndGlyphs">1959</text>
<text transform="translate(66.00 879.00) rotate(-0.470) scale(1.0000 1)" font-family="Liberation Serif" font-size="14.6" font-weight="bold" letter-spacing="0.1">January</text>
<text transform="translate(333.90 876.81) rotate(-0.470) scale(0.9040 1)" font-family="Liberation Serif" font-size="14.6" font-weight="bold" text-anchor="end" stroke="#111" stroke-width="0.35">38, 658</text>
<text transform="translate(412.20 876.17) rotate(-0.470) scale(0.9040 1)" font-family="Liberation Serif" font-size="14.6" font-weight="bold" text-anchor="end" stroke="#111" stroke-width="0.35">36, 485</text>
<text transform="translate(467.10 875.94) rotate(-0.201) scale(0.9040 1)" font-family="Liberation Serif" font-size="14.6" font-weight="bold" stroke="#111" stroke-width="0.35">26</text>
<text transform="translate(547.20 875.66) rotate(-0.201) scale(0.9040 1)" font-family="Liberation Serif" font-size="14.6" font-weight="bold" stroke="#111" stroke-width="0.35">26</text>
<text transform="translate(653.40 874.94) rotate(-0.201) scale(0.9040 1)" font-family="Liberation Serif" font-size="14.6" font-weight="bold" text-anchor="end" stroke="#111" stroke-width="0.35">1, 487</text>
<text transform="translate(741.30 874.63) rotate(-0.201) scale(0.9040 1)" font-family="Liberation Serif" font-size="14.6" font-weight="bold" text-anchor="end" stroke="#111" stroke-width="0.35">1, 403</text>
<text transform="translate(66.00 891.75) rotate(-0.470) scale(1.0000 1)" font-family="Liberation Serif" font-size="14.6" font-weight="bold" letter-spacing="0.1">February</text>
<text transform="translate(333.90 889.56) rotate(-0.470) scale(0.9040 1)" font-family="Liberation Serif" font-size="14.6" font-weight="bold" text-anchor="end" stroke="#111" stroke-width="0.35">32, 237</text>
<text transform="translate(412.20 888.91) rotate(-0.470) scale(0.9040 1)" font-family="Liberation Serif" font-size="14.6" font-weight="bold" text-anchor="end" stroke="#111" stroke-width="0.35">34, 273</text>
<text transform="translate(467.10 888.69) rotate(-0.201) scale(0.9040 1)" font-family="Liberation Serif" font-size="14.6" font-weight="bold" stroke="#111" stroke-width="0.35">24</text>
<text transform="translate(547.20 888.41) rotate(-0.201) scale(0.9040 1)" font-family="Liberation Serif" font-size="14.6" font-weight="bold" stroke="#111" stroke-width="0.35">24</text>
<text transform="translate(653.40 887.68) rotate(-0.201) scale(0.9040 1)" font-family="Liberation Serif" font-size="14.6" font-weight="bold" text-anchor="end" stroke="#111" stroke-width="0.35">1, 343</text>
<text transform="translate(741.30 887.38) rotate(-0.201) scale(0.9040 1)" font-family="Liberation Serif" font-size="14.6" font-weight="bold" text-anchor="end" stroke="#111" stroke-width="0.35">1, 428</text>
<text transform="translate(66.00 904.49) rotate(-0.470) scale(1.0000 1)" font-family="Liberation Serif" font-size="14.6" font-weight="bold" letter-spacing="0.1">March</text>
<text transform="translate(333.90 902.30) rotate(-0.470) scale(0.9040 1)" font-family="Liberation Serif" font-size="14.6" font-weight="bold" text-anchor="end" stroke="#111" stroke-width="0.35">32, 886</text>
<text transform="translate(412.20 901.66) rotate(-0.470) scale(0.9040 1)" font-family="Liberation Serif" font-size="14.6" font-weight="bold" text-anchor="end" stroke="#111" stroke-width="0.35">35, 396</text>
<text transform="translate(467.10 901.43) rotate(-0.201) scale(0.9040 1)" font-family="Liberation Serif" font-size="14.6" font-weight="bold" stroke="#111" stroke-width="0.35">26</text>
<text transform="translate(547.20 901.15) rotate(-0.201) scale(0.9040 1)" font-family="Liberation Serif" font-size="14.6" font-weight="bold" stroke="#111" stroke-width="0.35">26</text>
<text transform="translate(653.40 900.43) rotate(-0.201) scale(0.9040 1)" font-family="Liberation Serif" font-size="14.6" font-weight="bold" text-anchor="end" stroke="#111" stroke-width="0.35">1, 265</text>
<text transform="translate(741.30 900.12) rotate(-0.201) scale(0.9040 1)" font-family="Liberation Serif" font-size="14.6" font-weight="bold" text-anchor="end" stroke="#111" stroke-width="0.35">1, 361</text>
<text transform="translate(66.00 917.24) rotate(-0.470) scale(1.0000 1)" font-family="Liberation Serif" font-size="14.6" font-weight="bold" letter-spacing="0.1">April</text>
<text transform="translate(333.90 915.05) rotate(-0.470) scale(0.9040 1)" font-family="Liberation Serif" font-size="14.6" font-weight="bold" text-anchor="end" stroke="#111" stroke-width="0.35">30, 432</text>
<text transform="translate(412.20 914.40) rotate(-0.470) scale(0.9040 1)" font-family="Liberation Serif" font-size="14.6" font-weight="bold" text-anchor="end" stroke="#111" stroke-width="0.35">35, 096</text>
<text transform="translate(467.10 914.18) rotate(-0.201) scale(0.9040 1)" font-family="Liberation Serif" font-size="14.6" font-weight="bold" stroke="#111" stroke-width="0.35">25. 3</text>
<text transform="translate(547.20 913.90) rotate(-0.201) scale(0.9040 1)" font-family="Liberation Serif" font-size="14.6" font-weight="bold" stroke="#111" stroke-width="0.35">25. 4</text>
<text transform="translate(653.40 913.17) rotate(-0.201) scale(0.9040 1)" font-family="Liberation Serif" font-size="14.6" font-weight="bold" text-anchor="end" stroke="#111" stroke-width="0.35">1, 203</text>
<text transform="translate(741.30 912.87) rotate(-0.201) scale(0.9040 1)" font-family="Liberation Serif" font-size="14.6" font-weight="bold" text-anchor="end" stroke="#111" stroke-width="0.35">1, 382</text>
<text transform="translate(66.00 929.98) rotate(-0.470) scale(1.0000 1)" font-family="Liberation Serif" font-size="14.6" font-weight="bold" letter-spacing="0.1">May</text>
<text transform="translate(333.90 927.79) rotate(-0.470) scale(0.9040 1)" font-family="Liberation Serif" font-size="14.6" font-weight="bold" text-anchor="end" stroke="#111" stroke-width="0.35">31, 103</text>
<text transform="translate(412.20 927.15) rotate(-0.470) scale(0.9040 1)" font-family="Liberation Serif" font-size="14.6" font-weight="bold" text-anchor="end" stroke="#111" stroke-width="0.35">35, 495</text>
<text transform="translate(467.10 926.92) rotate(-0.201) scale(0.9040 1)" font-family="Liberation Serif" font-size="14.6" font-weight="bold" stroke="#111" stroke-width="0.35">26. 6</text>
<text transform="translate(547.20 926.64) rotate(-0.201) scale(0.9040 1)" font-family="Liberation Serif" font-size="14.6" font-weight="bold" stroke="#111" stroke-width="0.35">25. 8</text>
<text transform="translate(653.40 925.92) rotate(-0.201) scale(0.9040 1)" font-family="Liberation Serif" font-size="14.6" font-weight="bold" text-anchor="end" stroke="#111" stroke-width="0.35">1, 169</text>
<text transform="translate(741.30 925.61) rotate(-0.201) scale(0.9040 1)" font-family="Liberation Serif" font-size="14.6" font-weight="bold" text-anchor="end" stroke="#111" stroke-width="0.35">1, 376</text>
<text transform="translate(66.00 942.73) rotate(-0.470) scale(1.0000 1)" font-family="Liberation Serif" font-size="14.6" font-weight="bold" letter-spacing="0.1">June</text>
<text transform="translate(333.90 940.54) rotate(-0.470) scale(0.9040 1)" font-family="Liberation Serif" font-size="14.6" font-weight="bold" text-anchor="end" stroke="#111" stroke-width="0.35">34, 647</text>
<text transform="translate(412.20 939.89) rotate(-0.470) scale(0.9040 1)" font-family="Liberation Serif" font-size="14.6" font-weight="bold" text-anchor="end" stroke="#111" stroke-width="0.35">36, 775</text>
<text transform="translate(467.10 939.67) rotate(-0.201) scale(0.9040 1)" font-family="Liberation Serif" font-size="14.6" font-weight="bold" stroke="#111" stroke-width="0.35">23. 8</text>
<text transform="translate(547.20 939.39) rotate(-0.201) scale(0.9040 1)" font-family="Liberation Serif" font-size="14.6" font-weight="bold" stroke="#111" stroke-width="0.35">24. 1</text>
<text transform="translate(653.40 938.66) rotate(-0.201) scale(0.9040 1)" font-family="Liberation Serif" font-size="14.6" font-weight="bold" text-anchor="end" stroke="#111" stroke-width="0.35">1, 456</text>
<text transform="translate(741.30 938.36) rotate(-0.201) scale(0.9040 1)" font-family="Liberation Serif" font-size="14.6" font-weight="bold" text-anchor="end" stroke="#111" stroke-width="0.35">1, 526</text>
<text transform="translate(66.00 955.47) rotate(-0.470) scale(1.0000 1)" font-family="Liberation Serif" font-size="14.6" font-weight="bold" letter-spacing="0.1">July</text>
<text transform="translate(333.90 953.28) rotate(-0.470) scale(0.9040 1)" font-family="Liberation Serif" font-size="14.6" font-weight="bold" text-anchor="end" stroke="#111" stroke-width="0.35">24, 301</text>
<text transform="translate(412.20 952.64) rotate(-0.470) scale(0.9040 1)" font-family="Liberation Serif" font-size="14.6" font-weight="bold" text-anchor="end" stroke="#111" stroke-width="0.35">24, 377</text>
<text transform="translate(467.10 952.41) rotate(-0.201) scale(0.9040 1)" font-family="Liberation Serif" font-size="14.6" font-weight="bold" stroke="#111" stroke-width="0.35">18</text>
<text transform="translate(547.20 952.13) rotate(-0.201) scale(0.9040 1)" font-family="Liberation Serif" font-size="14.6" font-weight="bold" stroke="#111" stroke-width="0.35">19. 4</text>
<text transform="translate(653.40 951.41) rotate(-0.201) scale(0.9040 1)" font-family="Liberation Serif" font-size="14.6" font-weight="bold" text-anchor="end" stroke="#111" stroke-width="0.35">1, 350</text>
<text transform="translate(741.30 951.10) rotate(-0.201) scale(0.9040 1)" font-family="Liberation Serif" font-size="14.6" font-weight="bold" text-anchor="end" stroke="#111" stroke-width="0.35">1, 257</text>
<text transform="translate(66.00 968.22) rotate(-0.470) scale(1.0000 1)" font-family="Liberation Serif" font-size="14.6" font-weight="bold" letter-spacing="0.1">August</text>
<text transform="translate(333.90 966.03) rotate(-0.470) scale(0.9040 1)" font-family="Liberation Serif" font-size="14.6" font-weight="bold" text-anchor="end" stroke="#111" stroke-width="0.35">34, 420</text>
<text transform="translate(412.20 965.38) rotate(-0.470) scale(0.9040 1)" font-family="Liberation Serif" font-size="14.6" font-weight="bold" text-anchor="end" stroke="#111" stroke-width="0.35">30, 088</text>
<text transform="translate(467.10 965.16) rotate(-0.201) scale(0.9040 1)" font-family="Liberation Serif" font-size="14.6" font-weight="bold" stroke="#111" stroke-width="0.35">26</text>
<text transform="translate(547.20 964.88) rotate(-0.201) scale(0.9040 1)" font-family="Liberation Serif" font-size="14.6" font-weight="bold" stroke="#111" stroke-width="0.35">26</text>
<text transform="translate(653.40 964.15) rotate(-0.201) scale(0.9040 1)" font-family="Liberation Serif" font-size="14.6" font-weight="bold" text-anchor="end" stroke="#111" stroke-width="0.35">1, 324</text>
<text transform="translate(741.30 963.85) rotate(-0.201) scale(0.9040 1)" font-family="Liberation Serif" font-size="14.6" font-weight="bold" text-anchor="end" stroke="#111" stroke-width="0.35">1, 157</text>
<text transform="translate(66.00 980.96) rotate(-0.470) scale(1.0000 1)" font-family="Liberation Serif" font-size="14.6" font-weight="bold" letter-spacing="0.1">September</text>
<text transform="translate(333.90 978.77) rotate(-0.470) scale(0.9040 1)" font-family="Liberation Serif" font-size="14.6" font-weight="bold" text-anchor="end" stroke="#111" stroke-width="0.35">36, 956</text>
<text transform="translate(412.20 978.13) rotate(-0.470) scale(0.9040 1)" font-family="Liberation Serif" font-size="14.6" font-weight="bold" text-anchor="end" stroke="#111" stroke-width="0.35">32, 571</text>
<text transform="translate(467.10 977.90) rotate(-0.201) scale(0.9040 1)" font-family="Liberation Serif" font-size="14.6" font-weight="bold" stroke="#111" stroke-width="0.35">25</text>
<text transform="translate(547.20 977.62) rotate(-0.201) scale(0.9040 1)" font-family="Liberation Serif" font-size="14.6" font-weight="bold" stroke="#111" stroke-width="0.35">25</text>
<text transform="translate(653.40 976.90) rotate(-0.201) scale(0.9040 1)" font-family="Liberation Serif" font-size="14.6" font-weight="bold" text-anchor="end" stroke="#111" stroke-width="0.35">1, 478</text>
<text transform="translate(741.30 976.59) rotate(-0.201) scale(0.9040 1)" font-family="Liberation Serif" font-size="14.6" font-weight="bold" text-anchor="end" stroke="#111" stroke-width="0.35">1, 303</text>
<text transform="translate(66.00 993.71) rotate(-0.470) scale(1.0000 1)" font-family="Liberation Serif" font-size="14.6" font-weight="bold" letter-spacing="0.1">October</text>
<text transform="translate(333.90 991.52) rotate(-0.470) scale(0.9040 1)" font-family="Liberation Serif" font-size="14.6" font-weight="bold" text-anchor="end" stroke="#111" stroke-width="0.35">40, 205</text>
<text transform="translate(412.20 990.87) rotate(-0.470) scale(0.9040 1)" font-family="Liberation Serif" font-size="14.6" font-weight="bold" text-anchor="end" stroke="#111" stroke-width="0.35">34, 921</text>
<text transform="translate(467.10 990.65) rotate(-0.201) scale(0.9040 1)" font-family="Liberation Serif" font-size="14.6" font-weight="bold" stroke="#111" stroke-width="0.35">27</text>
<text transform="translate(547.20 990.37) rotate(-0.201) scale(0.9040 1)" font-family="Liberation Serif" font-size="14.6" font-weight="bold" stroke="#111" stroke-width="0.35">27</text>
<text transform="translate(653.40 989.64) rotate(-0.201) scale(0.9040 1)" font-family="Liberation Serif" font-size="14.6" font-weight="bold" text-anchor="end" stroke="#111" stroke-width="0.35">1, 489</text>
<text transform="translate(741.30 989.34) rotate(-0.201) scale(0.9040 1)" font-family="Liberation Serif" font-size="14.6" font-weight="bold" text-anchor="end" stroke="#111" stroke-width="0.35">1, 293</text>
<text transform="translate(66.00 1006.45) rotate(-0.470) scale(1.0000 1)" font-family="Liberation Serif" font-size="14.6" font-weight="bold" letter-spacing="0.1">November</text>
<text transform="translate(333.90 1004.26) rotate(-0.470) scale(0.9040 1)" font-family="Liberation Serif" font-size="14.6" font-weight="bold" text-anchor="end" stroke="#111" stroke-width="0.35">34, 802</text>
<text transform="translate(412.20 1003.62) rotate(-0.470) scale(0.9040 1)" font-family="Liberation Serif" font-size="14.6" font-weight="bold" text-anchor="end" stroke="#111" stroke-width="0.35">35, 997</text>
<text transform="translate(467.10 1003.39) rotate(-0.201) scale(0.9040 1)" font-family="Liberation Serif" font-size="14.6" font-weight="bold" stroke="#111" stroke-width="0.35">23. 8</text>
<text transform="translate(547.20 1003.11) rotate(-0.201) scale(0.9040 1)" font-family="Liberation Serif" font-size="14.6" font-weight="bold" stroke="#111" stroke-width="0.35">23. 8</text>
<text transform="translate(653.40 1002.39) rotate(-0.201) scale(0.9040 1)" font-family="Liberation Serif" font-size="14.6" font-weight="bold" text-anchor="end" stroke="#111" stroke-width="0.35">1, 462</text>
<text transform="translate(741.30 1002.08) rotate(-0.201) scale(0.9040 1)" font-family="Liberation Serif" font-size="14.6" font-weight="bold" text-anchor="end" stroke="#111" stroke-width="0.35">1, 512</text>
<text transform="translate(66.00 1019.19) rotate(-0.470) scale(1.0000 1)" font-family="Liberation Serif" font-size="14.6" font-weight="bold" letter-spacing="0.1">December</text>
<text transform="translate(333.90 1017.01) rotate(-0.470) scale(0.9040 1)" font-family="Liberation Serif" font-size="14.6" font-weight="bold" text-anchor="end" stroke="#111" stroke-width="0.35">39, 799</text>
<text transform="translate(412.20 1016.36) rotate(-0.470) scale(0.9040 1)" font-family="Liberation Serif" font-size="14.6" font-weight="bold" text-anchor="end" stroke="#111" stroke-width="0.35">40, 554</text>
<text transform="translate(467.10 1016.14) rotate(-0.201) scale(0.9040 1)" font-family="Liberation Serif" font-size="14.6" font-weight="bold" stroke="#111" stroke-width="0.35">26</text>
<text transform="translate(547.20 1015.86) rotate(-0.201) scale(0.9040 1)" font-family="Liberation Serif" font-size="14.6" font-weight="bold" stroke="#111" stroke-width="0.35">26</text>
<text transform="translate(653.40 1015.13) rotate(-0.201) scale(0.9040 1)" font-family="Liberation Serif" font-size="14.6" font-weight="bold" text-anchor="end" stroke="#111" stroke-width="0.35">1, 531</text>
<text transform="translate(741.30 1014.83) rotate(-0.201) scale(0.9040 1)" font-family="Liberation Serif" font-size="14.6" font-weight="bold" text-anchor="end" stroke="#111" stroke-width="0.35">1, 560</text>
<text transform="translate(104.70 1044.10) rotate(-0.470) scale(1.0000 1)" font-family="Liberation Serif" font-size="14.6" font-weight="bold" letter-spacing="0.1">Total</text>
<text transform="translate(334.00 1041.93) rotate(-0.470) scale(0.9040 1)" font-family="Liberation Serif" font-size="14.6" font-weight="bold" text-anchor="end" stroke="#111" stroke-width="0.35">410, 446</text>
<text transform="translate(413.00 1041.28) rotate(-0.470) scale(0.9040 1)" font-family="Liberation Serif" font-size="14.6" font-weight="bold" text-anchor="end" stroke="#111" stroke-width="0.35">412, 028</text>
<text transform="translate(493.50 1040.97) rotate(-0.201) scale(0.9040 1)" font-family="Liberation Serif" font-size="14.6" font-weight="bold" text-anchor="end" stroke="#111" stroke-width="0.35">297. 5</text>
<text transform="translate(573.00 1040.69) rotate(-0.201) scale(0.9040 1)" font-family="Liberation Serif" font-size="14.6" font-weight="bold" text-anchor="end" stroke="#111" stroke-width="0.35">298. 5</text>
<text transform="translate(653.40 1040.41) rotate(-0.201) scale(0.9040 1)" font-family="Liberation Serif" font-size="14.6" font-weight="bold" text-anchor="end" stroke="#111" stroke-width="0.35">1, 380</text>
<text transform="translate(741.30 1040.10) rotate(-0.201) scale(0.9040 1)" font-family="Liberation Serif" font-size="14.6" font-weight="bold" text-anchor="end" stroke="#111" stroke-width="0.35">1, 380</text>
<polyline points="66.20,751.80 420.00,748.90 738.00,747.79" fill="none" stroke="#111" stroke-width="2.5"/>
<polyline points="67.20,1061.30 420.00,1058.41 740.00,1057.29" fill="none" stroke="#111" stroke-width="2.5"/>
<line x1="262.20" y1="753.00" x2="262.20" y2="1055.80" stroke="#111" stroke-width="1.75"/>
<line x1="420.10" y1="752.00" x2="420.10" y2="1054.90" stroke="#111" stroke-width="1.75"/>
<line x1="581.00" y1="751.40" x2="581.00" y2="1054.10" stroke="#111" stroke-width="1.75"/>
<line x1="341.60" y1="814.20" x2="341.60" y2="1055.40" stroke="#111" stroke-width="1.6"/>
<line x1="501.10" y1="813.20" x2="501.10" y2="1054.50" stroke="#111" stroke-width="1.6"/>
<line x1="661.10" y1="812.30" x2="661.10" y2="1053.70" stroke="#111" stroke-width="1.6"/>
<polyline points="263.70,814.00 418.00,812.73" fill="none" stroke="#111" stroke-width="1.4"/>
<polyline points="422.50,812.80 578.60,812.25" fill="none" stroke="#111" stroke-width="1.4"/>
<polyline points="583.20,812.00 741.00,811.45" fill="none" stroke="#111" stroke-width="1.4"/>
<polyline points="66.70,853.30 258.60,851.73" fill="none" stroke="#111" stroke-width="1.4"/>
<polyline points="264.00,851.68 339.70,851.06" fill="none" stroke="#111" stroke-width="1.4"/>
<polyline points="343.80,851.03 418.10,850.42" fill="none" stroke="#111" stroke-width="1.4"/>
<polyline points="422.50,850.39 499.00,850.13" fill="none" stroke="#111" stroke-width="1.4"/>
<polyline points="503.20,850.11 578.70,849.85" fill="none" stroke="#111" stroke-width="1.4"/>
<polyline points="583.20,849.83 659.00,849.57" fill="none" stroke="#111" stroke-width="1.4"/>
<polyline points="663.40,849.55 741.00,849.28" fill="none" stroke="#111" stroke-width="1.4"/>
<polyline points="264.00,1025.88 339.70,1025.26" fill="none" stroke="#111" stroke-width="1.4"/>
<polyline points="343.80,1025.23 418.10,1024.62" fill="none" stroke="#111" stroke-width="1.4"/>
<polyline points="422.50,1024.59 499.00,1024.33" fill="none" stroke="#111" stroke-width="1.4"/>
<polyline points="503.20,1024.31 578.70,1024.05" fill="none" stroke="#111" stroke-width="1.4"/>
<polyline points="583.20,1024.03 659.00,1023.77" fill="none" stroke="#111" stroke-width="1.4"/>
<polyline points="663.40,1023.75 741.00,1023.48" fill="none" stroke="#111" stroke-width="1.4"/>
<line x1="119.71" y1="877.56" x2="258.40" y2="876.42" stroke="#111" stroke-width="1.45" stroke-dasharray="4.3 1.7" stroke-dashoffset="3.61"/>
<line x1="127.09" y1="890.24" x2="258.40" y2="889.17" stroke="#111" stroke-width="1.45" stroke-dasharray="4.3 1.7" stroke-dashoffset="4.99"/>
<line x1="109.49" y1="903.13" x2="258.40" y2="901.91" stroke="#111" stroke-width="1.45" stroke-dasharray="4.3 1.7" stroke-dashoffset="5.39"/>
<line x1="100.85" y1="915.95" x2="258.40" y2="914.66" stroke="#111" stroke-width="1.45" stroke-dasharray="4.3 1.7" stroke-dashoffset="2.75"/>
<line x1="95.78" y1="928.74" x2="258.40" y2="927.40" stroke="#111" stroke-width="1.45" stroke-dasharray="4.3 1.7" stroke-dashoffset="3.68"/>
<line x1="97.52" y1="941.47" x2="258.40" y2="940.15" stroke="#111" stroke-width="1.45" stroke-dasharray="4.3 1.7" stroke-dashoffset="5.42"/>
<line x1="94.27" y1="954.24" x2="258.40" y2="952.89" stroke="#111" stroke-width="1.45" stroke-dasharray="4.3 1.7" stroke-dashoffset="2.17"/>
<line x1="112.31" y1="966.84" x2="258.40" y2="965.64" stroke="#111" stroke-width="1.45" stroke-dasharray="4.3 1.7" stroke-dashoffset="2.21"/>
<line x1="135.28" y1="979.39" x2="258.40" y2="978.38" stroke="#111" stroke-width="1.45" stroke-dasharray="4.3 1.7" stroke-dashoffset="1.18"/>
<line x1="118.86" y1="992.27" x2="258.40" y2="991.13" stroke="#111" stroke-width="1.45" stroke-dasharray="4.3 1.7" stroke-dashoffset="2.76"/>
<line x1="132.74" y1="1004.90" x2="258.40" y2="1003.87" stroke="#111" stroke-width="1.45" stroke-dasharray="4.3 1.7" stroke-dashoffset="4.64"/>
<line x1="131.10" y1="1017.66" x2="258.40" y2="1016.62" stroke="#111" stroke-width="1.45" stroke-dasharray="4.3 1.7" stroke-dashoffset="3.00"/>
<line x1="138.21" y1="1042.83" x2="258.40" y2="1041.84" stroke="#111" stroke-width="1.45" stroke-dasharray="4.3 1.7" stroke-dashoffset="4.11"/>
<circle cx="783.3" cy="149.7" r="0.6" fill="#555"/>
<circle cx="763.0" cy="269.0" r="0.5" fill="#888"/>
<circle cx="776.7" cy="440.0" r="0.5" fill="#999"/>
<circle cx="790.0" cy="1108.0" r="0.8" fill="#444"/>
<circle cx="566.5" cy="184.0" r="0.6" fill="#999"/>
<circle cx="214.0" cy="173.6" r="0.6" fill="#aaa"/>
<circle cx="234.0" cy="247.0" r="0.6" fill="#aaa"/>
<circle cx="735.0" cy="1210.0" r="0.5" fill="#999"/>
<circle cx="390.0" cy="1075.0" r="0.5" fill="#aaa"/>
<circle cx="718.0" cy="1278.0" r="0.5" fill="#aaa"/>
<circle cx="232.0" cy="1362.0" r="0.5" fill="#aaa"/>
</svg>
</div></body></html>
